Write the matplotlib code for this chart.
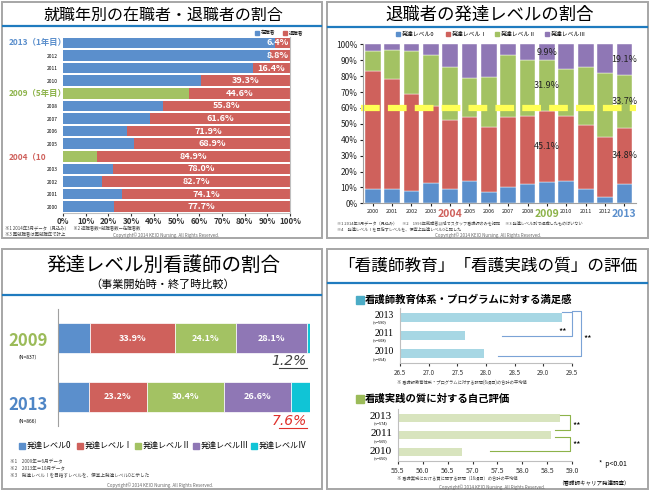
import matplotlib
matplotlib.use('Agg')
import matplotlib.pyplot as plt
from matplotlib.patches import Rectangle
from matplotlib.lines import Line2D

plt.rcParams['font.family'] = ['Noto Sans CJK JP', 'DejaVu Sans']

W, H = 650, 496

# --- データ ---
# 就職年別の在職者・退職者の割合
years_p1 = ['2013', '2012', '2011', '2010', '2009', '2008', '2007',
            '2006', '2005', '2004', '2003', '2002', '2001', '2000']
retire_p1 = [6.4, 8.8, 16.4, 39.3, 44.6, 55.8, 61.6, 71.9, 68.9, 84.9, 78.0, 82.7, 74.1, 77.7]
big_labels_p1 = {'2013': '2013（1年目）', '2009': '2009（5年目）', '2004': '2004（10'}

# 退職者の発達レベルの割合
years_p2 = ['2000', '2001', '2002', '2003', '2004', '2005', '2006',
            '2007', '2008', '2009', '2010', '2011', '2012', '2013']
lv0_p2 = [9.2, 9.0, 7.6, 12.9, 8.7, 14.3, 7.4, 10.4, 12.4, 13.1, 14.3, 9.2, 4.2, 12.4]
lv1_p2 = [74.3, 69.0, 61.3, 48.6, 43.8, 40.2, 40.6, 44.1, 42.6, 45.1, 40.7, 39.8, 37.3, 34.8]
lv2_p2 = [12.0, 18.5, 26.6, 32.0, 33.5, 24.5, 31.5, 38.5, 35.0, 31.9, 29.5, 37.0, 40.5, 33.7]
lv3_p2 = [4.5, 3.5, 4.5, 6.5, 14.0, 21.0, 20.5, 7.0, 10.0, 9.9, 15.5, 14.0, 18.0, 19.1]
legend_p2 = ['発達レベル0', '発達レベルⅠ', '発達レベルⅡ', '発達レベルⅢ']

# 発達レベル別看護師の割合
levels_p3 = ['発達レベル0', '発達レベルⅠ', '発達レベルⅡ', '発達レベルⅢ', '発達レベルⅣ']
share_2009 = [12.7, 33.9, 24.1, 28.1, 1.2]
share_2013 = [12.2, 23.2, 30.4, 26.6, 7.6]

# 「看護師教育」「看護実践の質」の評価
years_p4 = ['2013', '2011', '2010']
n_edu = ['(n=590)', '(n=608)', '(n=654)']
score_edu = [29.33, 27.64, 27.96]
n_prac = ['(n=574)', '(n=565)', '(n=650)']
score_prac = [58.75, 58.58, 56.78]

BLUE = '#5B8FCC'
RED = '#CF615C'
GREEN = '#A3C263'
PURPLE = '#8F77B5'
CYAN = '#10C4D6'
TBLUE = '#1F7BBF'
COPY = 'Copyright© 2014 KEIO Nursing. All Rights Reserved.'

fig = plt.figure(figsize=(6.5, 4.96), dpi=100)


def ax_px(x0, y0, x1, y1):
    return fig.add_axes([x0 / W, 1 - y1 / H, (x1 - x0) / W, (y1 - y0) / H])


def txt(x, y, s, **kw):
    kw.setdefault('ha', 'left')
    kw.setdefault('va', 'center')
    return fig.text(x / W, 1 - y / H, s, **kw)


def line(xs, ys, **kw):
    fig.add_artist(Line2D([x / W for x in xs], [1 - y / H for y in ys], **kw))


def rect(x0, y0, x1, y1, **kw):
    fig.add_artist(Rectangle((x0 / W, 1 - y1 / H), (x1 - x0) / W, (y1 - y0) / H,
                             transform=fig.transFigure, **kw))


# 枠とタイトル
for x0, y0, x1, y1 in [(2, 2, 322, 238), (327, 2, 648, 238), (2, 249, 322, 489), (327, 249, 648, 489)]:
    rect(x0, y0, x1, y1, fill=False, ec='#A6A6A6', lw=1.4)

txt(163, 15, '就職年別の在職者・退職者の割合', ha='center', fontsize=11.5)
line([3, 321], [25.5, 25.5], color=TBLUE, lw=1.6)
txt(490, 15, '退職者の発達レベルの割合', ha='center', fontsize=12.5)
line([328, 647], [26.5, 26.5], color=TBLUE, lw=1.6)
txt(163, 265, '発達レベル別看護師の割合', ha='center', fontsize=14)
txt(163, 285, '（事業開始時・終了時比較）', ha='center', fontsize=8)
line([3, 321], [294.5, 294.5], color=TBLUE, lw=1.6)
txt(488, 266, '「看護師教育」「看護実践の質」の評価', ha='center', fontsize=12)
line([328, 647], [282.5, 282.5], color=TBLUE, lw=1.6)

# ---------- パネル1 ----------
ax1 = ax_px(63, 36.7, 290, 213)
ypos = range(len(years_p1))
stay_p1 = [100 - r for r in retire_p1]
stay_colors = [GREEN if y in ('2009', '2004') else BLUE for y in years_p1]
ax1.barh(ypos, stay_p1, height=0.84, color=stay_colors)
ax1.barh(ypos, retire_p1, left=stay_p1, height=0.84, color=RED)
for i, (s, r) in enumerate(zip(stay_p1, retire_p1)):
    if r < 12:
        ax1.text(99.5, i, f'{r:.1f}%', ha='right', va='center', color='white',
                 fontsize=6.5, fontweight='bold')
    else:
        ax1.text(s + r / 2, i, f'{r:.1f}%', ha='center', va='center', color='white',
                 fontsize=6.5, fontweight='bold')
ax1.set_xlim(0, 100)
ax1.set_ylim(13.5, -0.5)
ax1.set_xticks(range(0, 101, 10))
ax1.set_xticklabels([f'{v}%' for v in range(0, 101, 10)], fontsize=5.8, fontweight='bold')
ax1.set_yticks(list(ypos))
ax1.set_yticklabels(['' if y in big_labels_p1 else y for y in years_p1], fontsize=3.5)
ax1.tick_params(axis='y', length=0, pad=4)
ax1.tick_params(axis='x', length=2, pad=1, colors='#333333')
for sp in ['top', 'left']:
    ax1.spines[sp].set_visible(False)
for sp in ['bottom', 'right']:
    ax1.spines[sp].set_color('#BFBFBF')
for y, c in [('2013', BLUE), ('2009', '#8DB34A'), ('2004', RED)]:
    i = years_p1.index(y)
    yy = 36.7 + (i + 0.5) * 176.3 / 14
    txt(9, yy, big_labels_p1[y], fontsize=6, fontweight='bold', color=c)
rect(255, 31, 259, 35, color=BLUE)
txt(261, 33, '在職者', fontsize=3.5)
rect(283, 31, 287, 35, color=RED)
txt(289, 33, '退職者', fontsize=3.5)
txt(5, 229, '※1 2014年3月データ（見込み）　※2 退職者数=就職者数ー在職者数', fontsize=3.2, color='#444444')
txt(5, 234.5, '※3 再就職者は再就職年で計上', fontsize=3.2, color='#444444')
txt(166, 235, COPY, ha='center', fontsize=3.2, color='#666666')

# ---------- パネル2 ----------
ax2 = ax_px(363, 44.3, 636, 203.3)
xpos = range(len(years_p2))
bottom = [0] * len(years_p2)
for vals, c in zip([lv0_p2, lv1_p2, lv2_p2, lv3_p2], [BLUE, RED, GREEN, PURPLE]):
    ax2.bar(xpos, vals, bottom=bottom, width=0.81, color=c, edgecolor='white', linewidth=0.3)
    bottom = [b + v for b, v in zip(bottom, vals)]
for y in ('2009', '2013'):
    i = years_p2.index(y)
    base = lv0_p2[i]
    for vals in (lv1_p2, lv2_p2, lv3_p2):
        ax2.text(i, base + vals[i] / 2, f'{vals[i]:.1f}%',
                 ha='center', va='center', fontsize=6.5, color='#222222')
        base += vals[i]
ax2.plot([-0.6, 13.6], [60, 60], color='#FFFF55', lw=4.5, dashes=(3.0, 1.3), clip_on=False)
ax2.set_xlim(-0.5, 13.6)
ax2.set_ylim(0, 100)
ax2.set_yticks(range(0, 101, 10))
ax2.set_yticklabels([f'{v}%' for v in range(0, 101, 10)], fontsize=6)
ax2.set_xticks(list(xpos))
ax2.set_xticklabels(years_p2, fontsize=4)
ax2.tick_params(length=2, pad=2, colors='#222222')
for sp in ['top', 'right']:
    ax2.spines[sp].set_visible(False)
for sp in ['bottom', 'left']:
    ax2.spines[sp].set_color('#A0A0A0')
for lab in ax2.get_xticklabels():
    t = lab.get_text()
    if t in ('2004', '2009', '2013'):
        lab.set_fontsize(7.5)
        lab.set_fontweight('bold')
        lab.set_color({'2004': RED, '2009': '#8DB34A', '2013': BLUE}[t])
for k, (lab, c) in enumerate(zip(legend_p2, [BLUE, RED, GREEN, PURPLE])):
    x = 396 + k * 49.5
    rect(x, 32, x + 4, 36, color=c)
    txt(x + 6, 34, lab, fontsize=4.2)
txt(337, 222.5, '※1 2014年3月データ（見込み）　 ※2　1996年就職者以降でスタッフ看護師のみを掲記　 ※3 発達レベル別で退職したものはいない',
    fontsize=3.0, color='#444444')
txt(337, 228.5, '※4　発達レベルⅠを目指すレベルを、便宜上発達レベル0と記した', fontsize=3.0, color='#444444')
txt(488, 235, COPY, ha='center', fontsize=3.2, color='#666666')

# ---------- パネル3 ----------
ax3 = ax_px(58, 309, 310, 426)
colors_p3 = [BLUE, RED, GREEN, PURPLE, CYAN]
for row, shares in enumerate([share_2009, share_2013]):
    left = 0
    for k, (v, c) in enumerate(zip(shares, colors_p3)):
        ax3.barh(row, v, left=left, height=0.52, color=c, edgecolor='white', linewidth=0.5)
        if k in (1, 2, 3):
            ax3.text(left + v / 2, row, f'{v:.1f}%', ha='center', va='center',
                     color='white', fontsize=6.5, fontweight='bold')
        left += v
ax3.set_xlim(0, 100)
ax3.set_ylim(1.5, -0.5)
ax3.set_xticks([])
ax3.set_yticks([])
for sp in ['top', 'right', 'bottom']:
    ax3.spines[sp].set_visible(False)
ax3.spines['left'].set_color('#A0A0A0')
txt(28, 341, '2009', ha='center', fontsize=12, fontweight='bold', color='#9BBB59')
txt(28, 357, '（N=837）', ha='center', fontsize=3.5)
txt(28, 405, '2013', ha='center', fontsize=12, fontweight='bold', color='#4F86C6')
txt(28, 421, '（N=866）', ha='center', fontsize=3.5)
txt(307, 361, f'{share_2009[4]:.1f}%', ha='right', fontsize=10, style='italic',
    family=['DejaVu Sans'], color='#404040')
line([279, 307], [367.5, 367.5], color='#404040', lw=0.8)
txt(307, 421, f'{share_2013[4]:.1f}%', ha='right', fontsize=10, style='italic',
    family=['DejaVu Sans'], color='#E0302A')
line([279, 307], [427.5, 427.5], color='#E0302A', lw=0.8)
for k, (lab, c) in enumerate(zip(levels_p3, colors_p3)):
    x = 19 + k * 58
    rect(x, 442.5, x + 6, 448.5, color=c)
    txt(x + 8, 445.5, lab, fontsize=5.8)
txt(10, 462, '※1　2009年＝6月データ', fontsize=3.3, color='#444444')
txt(10, 469, '※2　2013年＝10月データ', fontsize=3.3, color='#444444')
txt(10, 476, '※3　発達レベルⅠを目指すレベルを、便宜上発達レベル0と示した', fontsize=3.3, color='#444444')
txt(160, 485, COPY, ha='center', fontsize=3.2, color='#666666')

# ---------- パネル4 ----------
rect(356, 296, 364, 304, color='#4BACC6')
txt(365, 300, '看護師教育体系・プログラムに対する満足感', fontsize=7.5, fontweight='bold')
ax4a = ax_px(400, 308, 572, 363)
ax4a.barh(range(3), score_edu, height=0.5, color='#A7D7E4')
ax4a.set_xlim(26.5, 29.5)
ax4a.set_ylim(2.5, -0.5)
ax4a.set_xticks([26.5, 27.0, 27.5, 28.0, 28.5, 29.0, 29.5])
ax4a.set_xticklabels(['26.5', '27.0', '27.5', '28.0', '28.5', '29.0', '29.5'], fontsize=4.5)
ax4a.set_yticks([])
ax4a.tick_params(axis='x', length=2, pad=2, colors='#333333')
for sp in ['top', 'right']:
    ax4a.spines[sp].set_visible(False)
for sp in ['bottom', 'left']:
    ax4a.spines[sp].set_color('#BFBFBF')
for i, (y, n) in enumerate(zip(years_p4, n_edu)):
    yy = 308 + (i + 0.5) * 55 / 3
    txt(394, yy - 2, y, ha='right', fontsize=7, family='Liberation Serif')
    txt(380, yy + 5, n, ha='center', fontsize=2.8)
line([562, 572, 572, 502], [312, 312, 336, 336], color='#7BA3D6', lw=0.8)
line([572, 581, 581, 498], [311, 311, 356, 356], color='#7BA3D6', lw=0.8)
txt(563, 332, '**', ha='center', fontsize=6.5)
txt(588, 339, '**', ha='center', fontsize=6.5)
txt(397, 382, '※ 看護師教育体系・プログラムに対する設問(6項目)の合計の平均値', fontsize=3.1, color='#444444')

rect(356, 395, 364, 403, color='#9BBB59')
txt(365, 399, '看護実践の質に対する自己評価', fontsize=7.5, fontweight='bold')
ax4b = ax_px(398, 409, 572, 461)
ax4b.barh(range(3), score_prac, height=0.48, color='#D8E4BE')
ax4b.set_xlim(55.5, 59.0)
ax4b.set_ylim(2.5, -0.5)
ax4b.set_xticks([55.5, 56.0, 56.5, 57.0, 57.5, 58.0, 58.5, 59.0])
ax4b.set_xticklabels(['55.5', '56.0', '56.5', '57.0', '57.5', '58.0', '58.5', '59.0'], fontsize=5)
ax4b.set_yticks([])
ax4b.tick_params(axis='x', length=2, pad=2, colors='#333333')
for sp in ['top', 'right']:
    ax4b.spines[sp].set_visible(False)
for sp in ['bottom', 'left']:
    ax4b.spines[sp].set_color('#BFBFBF')
for i, (y, n) in enumerate(zip(years_p4, n_prac)):
    yy = 409 + (i + 0.5) * 52 / 3
    txt(392, yy - 1, y, ha='right', fontsize=8, family='Liberation Serif')
    txt(381, yy + 6, n, ha='center', fontsize=2.8)
line([560, 570, 570, 555], [415, 415, 430, 430], color='#8DB34A', lw=0.8)
line([555, 570, 570, 490], [436.5, 436.5, 451, 451], color='#8DB34A', lw=0.8)
txt(577, 426, '**', ha='center', fontsize=6.5)
txt(577, 445, '**', ha='center', fontsize=6.5)
txt(599, 464, '*  p<0.01', fontsize=5)
txt(397, 478, '※ 看護実践における質に関する設問（16項目）の合計の平均値', fontsize=3.1, color='#444444')
txt(594, 482, '（看護師キャリア発達調査）', ha='center', fontsize=4)
txt(492, 487, COPY, ha='center', fontsize=3.2, color='#666666')

fig.savefig('out.png', dpi=100)
